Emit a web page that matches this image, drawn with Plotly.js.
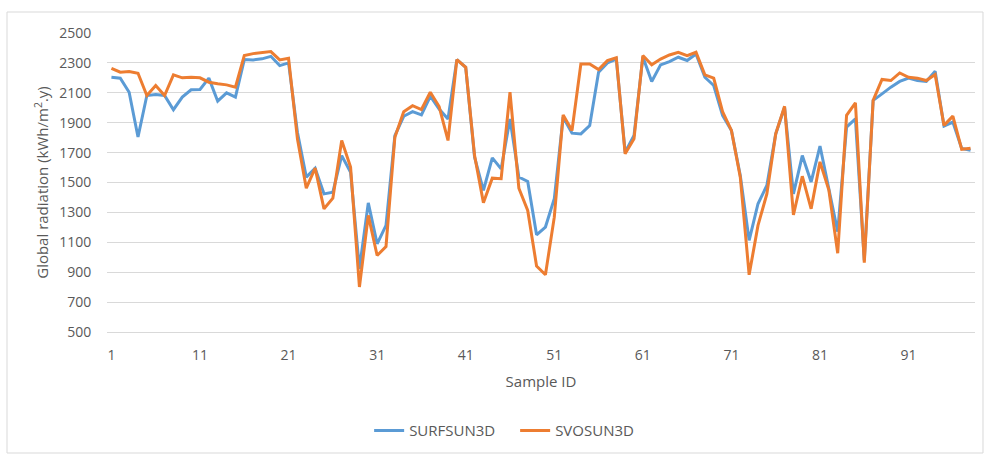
<!DOCTYPE html>
<html>
<head>
<meta charset="utf-8">
<script src="https://cdn.plot.ly/plotly-3.0.1.min.js"></script>
<style>
  html, body { margin: 0; padding: 0; background: #ffffff; }
  #chart { width: 987px; height: 454px; }
</style>
</head>
<body>
<div id="chart"></div>
<script>
// Sample IDs 1..98
const sampleIds = [
  1,2,3,4,5,6,7,8,9,10,11,12,13,14,15,16,17,18,19,20,
  21,22,23,24,25,26,27,28,29,30,31,32,33,34,35,36,37,38,39,40,
  41,42,43,44,45,46,47,48,49,50,51,52,53,54,55,56,57,58,59,60,
  61,62,63,64,65,66,67,68,69,70,71,72,73,74,75,76,77,78,79,80,
  81,82,83,84,85,86,87,88,89,90,91,92,93,94,95,96,97,98
];

const surfsun3d = [
  2204,2198,2104,1804,2082,2089,2082,1987,2071,2120,
  2122,2198,2044,2100,2071,2322,2320,2327,2344,2282,
  2300,1836,1536,1596,1424,1435,1680,1569,923,1364,
  1090,1213,1814,1943,1974,1952,2077,1992,1925,2322,
  2271,1669,1447,1665,1591,1925,1536,1507,1150,1202,
  1391,1937,1830,1825,1881,2237,2300,2326,1703,1814,
  2340,2176,2287,2309,2338,2316,2360,2204,2149,1948,
  1848,1547,1113,1358,1480,1825,2003,1424,1680,1504,
  1744,1460,1171,1871,1925,979,2049,2093,2138,2176,
  2198,2182,2176,2244,1878,1904,1727,1716
];

const svosun3d = [
  2264,2238,2242,2231,2082,2149,2082,2220,2200,2204,
  2200,2171,2160,2153,2138,2349,2362,2367,2376,2320,
  2331,1792,1462,1596,1324,1395,1781,1603,801,1280,
  1012,1072,1803,1974,2014,1988,2104,2008,1781,2322,
  2271,1680,1364,1529,1525,2104,1462,1313,941,883,
  1268,1952,1848,2293,2293,2255,2315,2335,1692,1792,
  2349,2287,2326,2353,2371,2349,2371,2220,2198,1974,
  1848,1536,883,1213,1424,1825,2010,1284,1542,1324,
  1638,1449,1027,1949,2033,963,2049,2189,2182,2233,
  2204,2198,2182,2222,1882,1944,1722,1729
];

const xTickVals = [1,11,21,31,41,51,61,71,81,91];
const yTickVals = [500,700,900,1100,1300,1500,1700,1900,2100,2300,2500];

const textColor = '#595959';
const gridColor = '#d9d9d9';
const fontFamily = '"Open Sans", "Noto Sans", sans-serif';

const traces = [
  {
    x: sampleIds, y: surfsun3d, name: 'SURFSUN3D',
    type: 'scatter', mode: 'lines',
    line: { color: '#5B9BD5', width: 3 }
  },
  {
    x: sampleIds, y: svosun3d, name: 'SVOSUN3D',
    type: 'scatter', mode: 'lines',
    line: { color: '#ED7D31', width: 3 }
  }
];

const layout = {
  width: 987, height: 454,
  margin: { l: 107, r: 12, t: 33, b: 122, autoexpand: false },
  paper_bgcolor: '#ffffff', plot_bgcolor: '#ffffff',
  font: { family: fontFamily, size: 14, color: textColor },
  showlegend: true,
  legend: {
    orientation: 'h', x: 0.302, xanchor: 'left', y: -0.33, yanchor: 'middle',
    font: { size: 15, color: textColor }, traceorder: 'normal',
    entrywidth: 101, entrywidthmode: 'pixels'
  },
  xaxis: {
    range: [0.5, 98.5], tickmode: 'array', tickvals: xTickVals,
    ticktext: xTickVals.map(String), automargin: false,
    showgrid: false, zeroline: false,
    showline: true, linecolor: gridColor, linewidth: 1,
    ticks: 'outside', ticklen: 10, tickcolor: 'rgba(0,0,0,0)',
    tickfont: { size: 14, color: textColor },
    title: { text: 'Sample ID', font: { size: 15, color: textColor }, standoff: 13 }
  },
  yaxis: {
    range: [500, 2500], tickmode: 'array', tickvals: yTickVals,
    automargin: false,
    showgrid: true, gridcolor: gridColor, gridwidth: 1, zeroline: false,
    showline: false,
    ticks: 'outside', ticklen: 12, tickcolor: 'rgba(0,0,0,0)',
    tickfont: { size: 14, color: textColor },
    title: { text: 'Global radiation (kWh/m<sup>2</sup>.y)', font: { size: 15, color: textColor }, standoff: 6 }
  },
  shapes: [
    {
      type: 'rect', xref: 'paper', yref: 'paper',
      x0: -0.1152, x1: 1.0092, y0: -0.4047, y1: 1.0702,
      line: { color: gridColor, width: 1 }, fillcolor: 'rgba(0,0,0,0)', layer: 'below'
    }
  ]
};

Plotly.newPlot('chart', traces, layout, { displayModeBar: false, staticPlot: true });
</script>
</body>
</html>
